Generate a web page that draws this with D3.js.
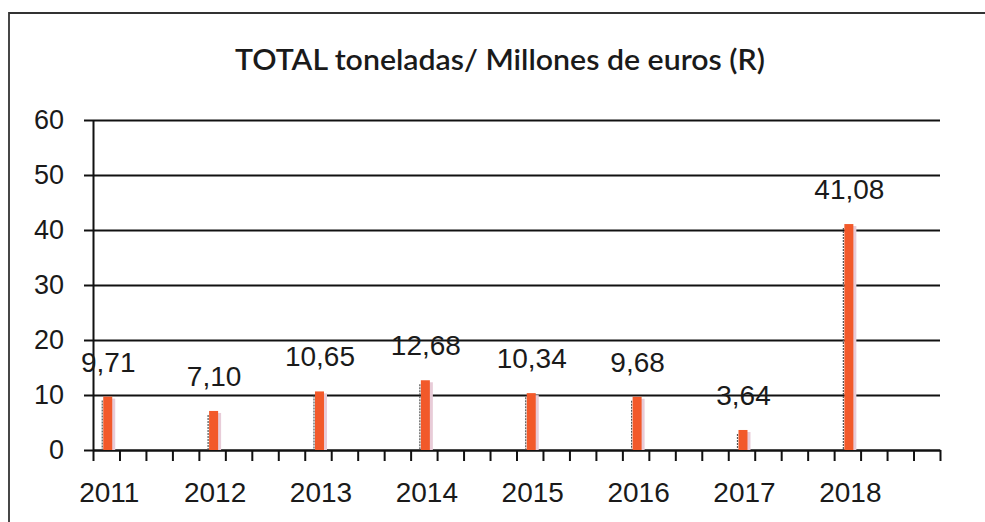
<!DOCTYPE html>
<html>
<head>
<meta charset="utf-8">
<script src="https://cdn.jsdelivr.net/npm/d3@7"></script>
<style>
  body { margin: 0; background: #fff; }
  svg { display: block; }
</style>
</head>
<body>
<div id="chart"></div>
<script>
// Data
const years = ['2011', '2012', '2013', '2014', '2015', '2016', '2017', '2018'];
const values = [9.71, 7.10, 10.65, 12.68, 10.34, 9.68, 3.64, 41.08];
const valueLabels = ['9,71', '7,10', '10,65', '12,68', '10,34', '9,68', '3,64', '41,08'];
const yTicks = [0, 10, 20, 30, 40, 50, 60];
const title = 'TOTAL toneladas/ Millones de euros (R)';

const svgWidth = 985;
const svgHeight = 522;

const plot = { left: 93, right: 940, top: 120, bottom: 450 };

const svg = d3.select('#chart')
    .append('svg')
    .attr('width', svgWidth)
    .attr('height', svgHeight);

// Frame: left and top edges only (the rest is cut off in the scan)
svg.append('path')
    .attr('d', 'M9,522 V13 H985')
    .attr('fill', 'none')
    .attr('stroke', '#333')
    .attr('stroke-width', 1.8);

// Title
svg.append('text')
    .attr('x', 500)
    .attr('y', 70)
    .attr('text-anchor', 'middle')
    .attr('font-family', 'Lato, "Open Sans", sans-serif')
    .attr('font-weight', 600)
    .attr('font-size', 28)
    .attr('fill', '#1a1a1a')
    .attr('textLength', 530)
    .attr('lengthAdjust', 'spacingAndGlyphs')
    .text(title);

// Scales
const x = d3.scaleBand()
    .domain(years)
    .range([plot.left, plot.right])
    .padding(0);

const xMinor = d3.scaleLinear()
    .domain([0, years.length])
    .range([plot.left, plot.right]);

const y = d3.scaleLinear()
    .domain([0, 60])
    .range([plot.bottom, plot.top]);

const barCenter = d => x(d) + x.bandwidth() / 8 + 2;

// Gridlines
const grid = svg.append('g')
    .attr('transform', `translate(${plot.left},0)`)
    .call(d3.axisLeft(y).tickValues(yTicks).tickSize(-(plot.right - plot.left)).tickFormat(''));
grid.select('.domain').remove();
grid.selectAll('line').attr('stroke', '#111').attr('stroke-width', 2);

// Y axis with labels
const yAxis = svg.append('g')
    .attr('transform', `translate(${plot.left},0)`)
    .call(d3.axisLeft(y).tickValues(yTicks).tickSize(9).tickSizeOuter(0).tickPadding(20));
yAxis.select('.domain').attr('stroke', '#111').attr('stroke-width', 2);
yAxis.selectAll('line').attr('stroke', '#111').attr('stroke-width', 2);
yAxis.selectAll('text')
    .attr('font-family', '"Liberation Sans", Arial, sans-serif')
    .attr('font-size', 27)
    .attr('fill', '#1a1a1a');

// X axis with minor ticks
const xAxis = svg.append('g')
    .attr('transform', `translate(0,${plot.bottom})`)
    .call(d3.axisBottom(xMinor)
        .tickValues(d3.range(0, years.length * 4 + 1).map(k => k / 4))
        .tickSize(11)
        .tickSizeOuter(0)
        .tickFormat(''));
xAxis.select('.domain').attr('stroke', '#111').attr('stroke-width', 2);
xAxis.selectAll('line').attr('stroke', '#111').attr('stroke-width', 2);

// Year labels
svg.append('g')
    .selectAll('text')
    .data(years)
    .enter()
    .append('text')
    .attr('x', d => barCenter(d) + 1)
    .attr('y', 502)
    .attr('text-anchor', 'middle')
    .attr('font-family', '"Liberation Sans", Arial, sans-serif')
    .attr('font-size', 28)
    .attr('fill', '#1a1a1a')
    .text(d => d);

// Bars
const bars = svg.append('g')
    .selectAll('g')
    .data(years.map((yr, i) => ({ year: yr, value: values[i], label: valueLabels[i] })))
    .enter()
    .append('g');

// faint pink halo on the right side
bars.append('rect')
    .attr('x', d => barCenter(d.year) + 3)
    .attr('y', d => y(d.value) + 2)
    .attr('width', 4)
    .attr('height', d => plot.bottom - y(d.value) - 2)
    .attr('fill', '#e8ccd8');

// dark scanned edge on the left side
bars.append('line')
    .attr('x1', d => barCenter(d.year) - 6)
    .attr('x2', d => barCenter(d.year) - 6)
    .attr('y1', d => y(d.value) + 4)
    .attr('y2', plot.bottom)
    .attr('stroke', '#555')
    .attr('stroke-width', 1.2)
    .attr('stroke-dasharray', '2,1');

bars.append('rect')
    .attr('x', d => barCenter(d.year) - 5)
    .attr('y', d => y(d.value))
    .attr('width', 9)
    .attr('height', d => plot.bottom - y(d.value))
    .attr('fill', '#f2592a');

// Value labels
bars.append('text')
    .attr('x', d => barCenter(d.year))
    .attr('y', d => y(d.value) - 25)
    .attr('text-anchor', 'middle')
    .attr('font-family', '"Liberation Sans", Arial, sans-serif')
    .attr('font-size', 28)
    .attr('fill', '#1a1a1a')
    .text(d => d.label);
</script>
</body>
</html>
